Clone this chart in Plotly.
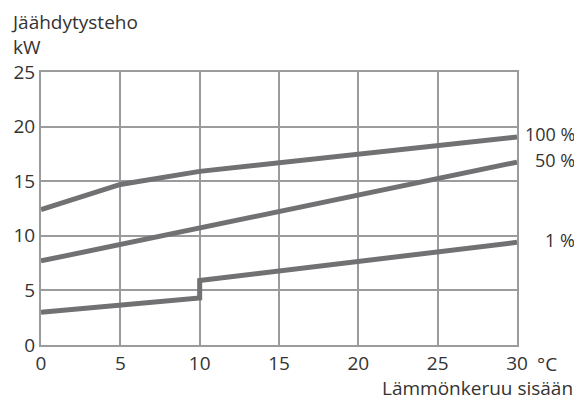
import plotly.graph_objects as go

# values
temp_in = [0, 5, 10, 30]
power_100 = [12.4, 14.7, 15.9, 19.05]
power_50_x = [0, 30]
power_50 = [7.7, 16.75]
power_1_x = [0, 10, 10, 30]
power_1 = [3.0, 4.3, 5.9, 9.4]

series_labels = ["100 %", "50 %", "1 %"]
label_y = [19.3, 16.9, 9.6]

x_ticks = [0, 5, 10, 15, 20, 25, 30]
y_ticks = [0, 5, 10, 15, 20, 25]

LINE = "#717174"
GRID = "#9a9b9d"
TEXT = "#333333"

fig = go.Figure()
for xs, ys in [(temp_in, power_100), (power_50_x, power_50), (power_1_x, power_1)]:
    fig.add_trace(go.Scatter(x=xs, y=ys, mode="lines",
                             line=dict(color=LINE, width=5), showlegend=False,
                             hoverinfo="skip"))

for lab, yy in zip(series_labels, label_y):
    fig.add_annotation(x=1, xref="paper", y=yy, yref="y", text=lab,
                       showarrow=False, xanchor="right", xshift=60,
                       font=dict(size=18, color=TEXT))

# axis titles / units
fig.add_annotation(x=0, xref="paper", y=1, yref="paper", text="Jäähdytysteho<br>kW",
                   showarrow=False, xanchor="left", yanchor="bottom", align="left",
                   xshift=-32, yshift=10, font=dict(size=19, color=TEXT))
fig.add_annotation(x=1, xref="paper", y=0, yref="paper", text="°C",
                   showarrow=False, xanchor="left", yanchor="top",
                   xshift=18, yshift=-4, font=dict(size=19, color=TEXT))
fig.add_annotation(x=1, xref="paper", y=0, yref="paper", text="Lämmönkeruu sisään",
                   showarrow=False, xanchor="right", yanchor="top",
                   xshift=58, yshift=-28, font=dict(size=19, color=TEXT))

# the page body adds an 8px offset, so the figure is sized for the visible window
fig.update_layout(
    width=574, height=393,
    margin=dict(l=33, r=65, t=64, b=56),
    paper_bgcolor="white", plot_bgcolor="white",
    font=dict(family="Open Sans", size=19, color=TEXT),
)
fig.update_xaxes(range=[0, 30], tickvals=x_ticks, showgrid=True, gridcolor=GRID,
                 gridwidth=2, showline=True, linecolor=GRID, linewidth=2, mirror=True,
                 zeroline=False, ticks="", ticklen=0, automargin=False)
fig.update_yaxes(range=[0, 25], tickvals=y_ticks, showgrid=True, gridcolor=GRID,
                 gridwidth=2, showline=True, linecolor=GRID, linewidth=2, mirror=True,
                 zeroline=False, ticks="", ticklen=0, automargin=False)

fig.write_html("out.html")
